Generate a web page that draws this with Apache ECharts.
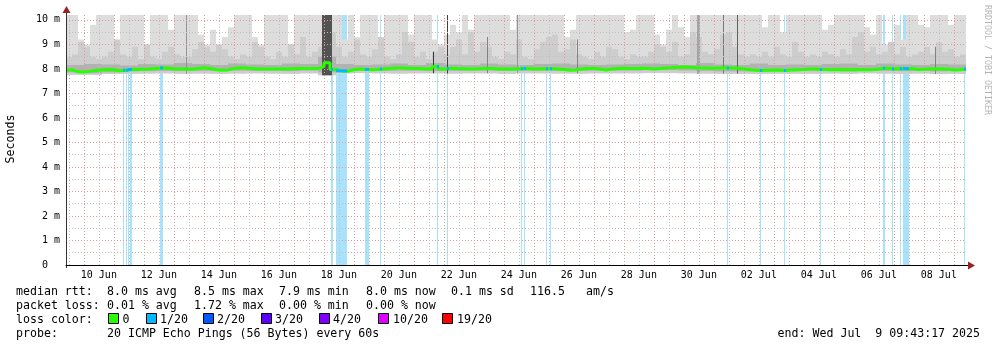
<!DOCTYPE html>
<html><head><meta charset="utf-8">
<script src="https://cdn.jsdelivr.net/npm/echarts@6/dist/echarts.min.js"></script>
<style>html,body{margin:0;padding:0;background:#fff}#c{width:997px;height:347px}</style>
</head><body><div id="c"></div>
<script>
// ---------- DATA ----------
const START = Date.UTC(2025, 5, 9, 9, 43, 17);
const END = Date.UTC(2025, 6, 9, 9, 43, 17);
const BIN_HOURS = 4.8;          // one sample bin of the fine arrays
const COARSE_BIN_HOURS = 14.4;  // one sample bin of the coarse arrays

const xTickLabels = ['10 Jun','12 Jun','14 Jun','16 Jun','18 Jun','20 Jun','22 Jun','24 Jun','26 Jun','28 Jun','30 Jun','02 Jul','04 Jul','06 Jul','08 Jul'];
const yTickLabels = ['0  ','1 m','2 m','3 m','4 m','5 m','6 m','7 m','8 m','9 m','10 m'];

// median rtt (ms)
const medianMs = [
7.96,7.88,7.87,7.9,7.94,7.97,7.98,7.97,7.92,7.95,
7.98,7.98,7.99,8.0,8.02,8.04,8.03,8.0,8.0,8.0,
7.99,8.02,8.05,8.02,7.97,7.95,7.96,8.02,8.05,8.04,
8.02,8.0,8.0,8.0,8.0,8.01,8.0,8.01,8.02,8.02,
8.02,8.02,8.1,8.25,7.98,7.92,7.9,7.97,8.0,7.98,
7.97,7.98,8.0,8.02,8.04,8.04,8.03,8.02,8.02,8.0,
8.0,8.1,8.0,8.02,8.02,8.01,8.0,8.0,8.01,8.02,
8.02,8.0,8.0,7.99,8.0,8.01,8.02,8.0,8.0,8.01,
8.01,8.0,7.98,7.95,7.96,8.0,8.02,8.02,8.0,7.96,
8.0,8.02,8.03,8.02,8.02,8.03,8.02,8.0,8.02,8.04,
8.05,8.07,8.08,8.07,8.05,8.04,8.04,8.03,8.04,8.05,
8.04,8.03,8.0,7.97,7.95,7.94,7.95,7.96,7.95,7.94,
7.96,7.97,7.98,8.0,8.0,7.98,7.97,7.97,7.98,7.97,
7.97,7.98,7.97,7.97,7.98,8.02,8.03,8.0,8.02,8.01,
8.02,7.98,7.99,8.0,8.0,8.01,7.99,7.96,7.97,8.0];

// highest ping of the bin (ms), light smoke top
const smokeTopMs = [
10.2,10.2,9.2,9.0,9.8,10.2,10.2,10.2,9.0,10.2,
10.2,10.2,10.2,8.9,10.2,10.2,10.2,9.6,10.2,10.2,
10.2,10.2,9.4,9.0,9.6,8.9,9.3,9.7,10.2,10.2,
10.2,9.3,9.0,10.2,10.2,10.2,10.2,9.0,10.2,10.2,
10.2,10.2,10.2,10.2,10.2,10.2,9.2,10.2,9.3,10.2,
10.2,10.2,9.2,10.2,10.2,10.2,10.2,9.4,10.2,10.2,
10.2,9.2,9.0,9.4,9.8,9.5,10.2,9.6,10.2,10.2,
10.2,10.2,10.2,10.2,9.6,10.2,10.2,10.2,10.2,10.2,
10.2,10.2,10.2,9.3,9.6,10.2,10.2,10.2,10.2,10.2,
10.2,10.2,10.2,9.5,9.6,10.2,10.2,10.2,9.4,9.0,
9.6,10.2,9.7,9.3,10.2,10.2,10.2,10.2,10.2,10.2,
10.2,10.2,10.2,10.2,10.2,10.2,9.7,10.2,10.2,9.5,
10.2,10.2,10.2,10.2,10.2,10.2,9.6,9.8,10.2,10.2,
10.2,10.2,10.2,9.7,9.4,10.2,9.0,9.0,9.8,9.2,
10.2,10.2,9.8,9.7,10.2,10.2,10.2,9.8,10.2,10.2];

// second-highest smoke band top (ms)
const smokeMidMs = [
8.5,8.6,9.1,8.9,8.5,8.4,8.5,8.7,9.2,8.6,
8.5,8.9,8.4,9.0,8.5,8.4,8.7,8.9,8.6,8.5,
8.5,8.8,9.1,8.9,8.7,9.0,8.8,8.5,8.4,8.6,
8.5,9.1,8.9,8.5,8.4,8.7,8.5,9.0,8.6,9.3,
8.5,8.7,8.9,9.5,9.5,8.9,8.5,8.7,9.2,8.6,
8.5,8.8,9.3,8.5,8.4,8.6,9.5,9.1,8.5,8.7,
8.4,8.7,8.9,8.6,8.9,9.2,8.6,9.5,8.7,9.1,
8.9,8.5,8.4,8.7,8.6,9.2,8.5,8.4,8.8,9.1,
9.3,9.4,8.7,8.8,9.2,8.6,8.5,8.4,8.7,8.5,
8.9,8.8,8.5,8.4,8.6,8.5,8.5,8.7,9.0,8.9,
8.7,9.1,8.5,8.6,9.5,9.3,8.7,8.6,8.8,9.4,
9.5,8.9,8.6,8.5,8.6,8.5,8.7,8.5,8.9,8.6,
8.5,9.1,8.7,8.5,8.6,8.5,8.7,8.6,8.5,8.8,
8.6,9.3,9.5,8.7,8.9,8.6,8.7,9.1,8.6,8.9,
8.5,8.6,8.7,8.9,8.6,9.1,8.7,8.8,8.5,8.6];

// lowest ping (ms), coarse bins
const smokeLowMs = [
7.76,7.76,7.79,7.8,7.81,7.82,7.8,7.81,7.8,7.81,
7.82,7.81,7.8,7.82,7.74,7.82,7.83,7.82,7.81,7.82,
7.82,7.81,7.82,7.82,7.8,7.82,7.82,7.81,7.81,7.82,
7.82,7.82,7.83,7.83,7.82,7.81,7.8,7.8,7.79,7.8,
7.8,7.8,7.81,7.8,7.82,7.81,7.8,7.81,7.79,7.8];
// dense core of the smoke (ms), coarse bins
const coreLowMs = [
7.86,7.82,7.86,7.9,7.91,7.92,7.91,7.92,7.92,7.93,
7.92,7.92,7.91,7.93,7.86,7.9,7.93,7.92,7.93,7.93,
7.92,7.92,7.93,7.93,7.92,7.93,7.93,7.92,7.92,7.93,
7.93,7.93,7.95,7.95,7.94,7.92,7.9,7.9,7.9,7.9,
7.91,7.91,7.92,7.9,7.93,7.92,7.91,7.92,7.9,7.91];
const coreHighMs = [
8.16,8.2,8.18,8.14,8.2,8.18,8.24,8.2,8.16,8.22,
8.18,8.16,8.22,8.2,8.5,8.2,8.16,8.18,8.22,8.16,
8.24,8.18,8.16,8.22,8.18,8.16,8.2,8.22,8.18,8.16,
8.18,8.2,8.22,8.2,8.16,8.24,8.18,8.16,8.22,8.16,
8.18,8.16,8.2,8.22,8.16,8.22,8.18,8.16,8.2,8.18];

// short dense smoke bursts: start/end (hours after START), top (ms), density 0..1
const burstStartH = [96, 204.8, 293.6, 304.8, 336.8, 360.8, 408.8, 504.8, 525.6, 536.8, 695.2];
const burstEndH   = [96.8, 212.8, 294.4, 305.6, 337.6, 361.6, 409.6, 507.2, 526.4, 537.6, 696];
const burstTopMs  = [10.2, 10.2, 8.7, 10.2, 9.3, 10.2, 9.2, 10.2, 10.2, 10.2, 8.9];
const burstDensity= [0.4, 0.78, 0.95, 0.88, 0.5, 0.4, 0.5, 0.3, 0.55, 0.7, 0.5];

// packet loss periods (hours after START) and lost pings out of 20
const lossStartH = [45.6,47.6,49.2,51.2,75.2,212,216,239.2,250.8,296.8,304.4,364,366,384,386.8,528.4,555.2,574.4,602.8,653.6,660.8,667.2,669.4,718.4];
const lossEndH   = [46.4,48.4,50.0,52.8,77.4,213.6,224.6,242.4,251.6,297.6,305.2,364.8,366.8,384.8,387.6,529.2,556,575.2,603.6,655.2,661.6,668,674.2,719.2];
const lossCount  = [1,1,1,1,1,1,1,1,1,1,1,1,1,1,1,1,1,1,1,1,1,1,1,1];

const lossLegendLabels = ['0','1/20','2/20','3/20','4/20','10/20','19/20'];

// ---------- CHART ----------
const HOUR = 3600e3;
const FONT = '"DejaVu Sans Mono", monospace';
const lossColors = ['#26ff00','#00b8ff','#0059ff','#5e00ff','#7e00ff','#dd00ff','#ff0000'];
const lossBg = ['#ffffff','#a9e3fb','#a0c4ff','#c4a6ff','#d2a6ff','#f2a6ff','#ffa6a6'];
function lossIndex(n){ if(n<=0) return 0; if(n<=1) return 1; if(n<=2) return 2; if(n<=3) return 3; if(n<=9) return 4; if(n<=18) return 5; return 6; }

const labelTimes = xTickLabels.map((_, k) => Date.UTC(2025, 5, 10 + 2*k, 12));
const noonTimes = [], midnightTimes = [];
for (let d = 0; d < 31; d++) {
  const n = Date.UTC(2025, 5, 9 + d, 12), m = Date.UTC(2025, 5, 10 + d, 0);
  if (n > START && n < END) noonTimes.push(n);
  if (m > START && m < END) midnightTimes.push(m);
}
const halfValues = [], wholeValues = [];
for (let v = 0; v <= 10; v++) { if (v > 0) wholeValues.push(v); halfValues.push(v + 0.5); }

const t = h => START + h * HOUR;

function rectFrom(api, t0, t1, lo, hi, minW) {
  const a = api.coord([t0, hi]), b = api.coord([t1, lo]);
  let x0 = Math.round(a[0]), x1 = Math.round(b[0]);
  if (x1 - x0 < minW) { const c = Math.round((a[0] + b[0]) / 2 - minW / 2); x0 = c; x1 = c + minW; }
  return { x: x0, y: a[1], width: x1 - x0, height: b[1] - a[1] };
}

function bandSeries(name, data, fillFn, z) {
  return {
    type: 'custom', name, z, clip: true, silent: true,
    xAxisIndex: 0, yAxisIndex: 0,
    encode: { x: [0, 1], y: [2, 3] },
    data,
    renderItem: (params, api) => ({
      type: 'rect',
      shape: rectFrom(api, api.value(0), api.value(1), api.value(2), api.value(3), 1),
      style: { fill: fillFn(api.value(4)) }
    })
  };
}

const fineBin = i => [START + i * BIN_HOURS * HOUR, START + (i + 1) * BIN_HOURS * HOUR];
const coarseBin = i => [START + i * COARSE_BIN_HOURS * HOUR, START + (i + 1) * COARSE_BIN_HOURS * HOUR];

const lightData = smokeTopMs.map((v, i) => { const b = fineBin(i); return [b[0], b[1], smokeLowMs[Math.floor(i/3)], v, 0]; });
const midData = smokeMidMs.map((v, i) => { const b = fineBin(i); return [b[0], b[1], smokeLowMs[Math.floor(i/3)], v, 0]; });
const coreData = coreHighMs.map((v, i) => { const b = coarseBin(i); return [b[0], b[1], coreLowMs[i], v, 0]; });
const burstData = burstStartH.map((s, i) => [t(s), t(burstEndH[i]), smokeLowMs[Math.floor(s / COARSE_BIN_HOURS)], burstTopMs[i], burstDensity[i]]);
const lossData = lossStartH.map((s, i) => [t(s), t(lossEndH[i]), 0, 10.2, lossCount[i]]);

const medianLine = medianMs.map((v, i) => [fineBin(i)[0], v]);
medianLine.push([END, medianMs[medianMs.length - 1]]);
const lossMedianData = lossStartH.map((s, i) => [t(s), t(lossEndH[i]), medianMs[Math.min(149, Math.floor(s / BIN_HOURS))], lossCount[i]]);

function gridAxisX(values, color) {
  return { type: 'value', min: START, max: END, position: 'bottom', z: 3,
    axisLine: { show: false }, axisLabel: { show: false }, splitLine: { show: false },
    axisTick: { show: true, customValues: values, inside: true, length: 250, lineStyle: { color, width: 1, type: [1, 2] } } };
}
function gridAxisY(values, color) {
  return { type: 'value', min: 0, max: 10.2, position: 'left', z: 3,
    axisLine: { show: false }, axisLabel: { show: false }, splitLine: { show: false },
    axisTick: { show: true, customValues: values, inside: true, length: 900, lineStyle: { color, width: 1, type: [1, 2] } } };
}

const graphics = [];
function txt(x, y, text, opt) {
  graphics.push(Object.assign({ type: 'text', x, y, silent: true,
    style: Object.assign({ text, font: '11.6px ' + FONT, fill: '#000', align: 'left', verticalAlign: 'middle' }, (opt && opt.style) || {}) },
    (opt && opt.el) || {}));
}
txt(11, 139, 'Seconds', { el: { rotation: Math.PI / 2 }, style: { align: 'center' } });
txt(987, 60, 'RRDTOOL / TOBI OETIKER', { el: { rotation: -Math.PI / 2 }, style: { align: 'center', font: '8.3px ' + FONT, fill: '#b4b4b4' } });

const L1 = 291.5, L2 = 305.5, L3 = 319.5, L4 = 333.5;
txt(16, L1, 'median rtt:'); txt(107, L1, '8.0 ms avg'); txt(194, L1, '8.5 ms max'); txt(279, L1, '7.9 ms min');
txt(366, L1, '8.0 ms now'); txt(451, L1, '0.1 ms sd'); txt(530, L1, '116.5'); txt(586, L1, 'am/s');
txt(16, L2, 'packet loss:'); txt(107, L2, '0.01 % avg'); txt(194, L2, '1.72 % max'); txt(279, L2, '0.00 % min'); txt(366, L2, '0.00 % now');
txt(16, L3, 'loss color:');
const boxX = [108, 146, 203, 261, 319, 378, 442];
const boxLabelX = [122.5, 160, 217, 275, 333, 393, 457];
lossLegendLabels.forEach((lab, i) => {
  graphics.push({ type: 'rect', silent: true, shape: { x: boxX[i] + 0.5, y: 313.5, width: 10, height: 10 },
    style: { fill: lossColors[i], stroke: '#000', lineWidth: 1 } });
  txt(boxLabelX[i], L3, lab);
});
txt(16, L4, 'probe:'); txt(107, L4, '20 ICMP Echo Pings (56 Bytes) every 60s');
txt(980, L4, 'end: Wed Jul  9 09:43:17 2025', { style: { align: 'right' } });
// axis extensions and arrows
graphics.push({ type: 'line', silent: true, shape: { x1: 966, y1: 265.5, x2: 970, y2: 265.5 }, style: { stroke: '#000', lineWidth: 1 } });
graphics.push({ type: 'line', silent: true, shape: { x1: 66.5, y1: 11, x2: 66.5, y2: 15 }, style: { stroke: '#333', lineWidth: 1 } });
graphics.push({ type: 'line', silent: true, shape: { x1: 66.5, y1: 265, x2: 66.5, y2: 268 }, style: { stroke: '#333', lineWidth: 1 } });
graphics.push({ type: 'polygon', silent: true, shape: { points: [[968, 261.5], [968, 269.5], [975, 265.5]] }, style: { fill: '#9b2020' } });
graphics.push({ type: 'polygon', silent: true, shape: { points: [[62.5, 13], [70.5, 13], [66.5, 6]] }, style: { fill: '#9b2020' } });

const option = {
  animation: false,
  backgroundColor: '#ffffff',
  grid: { left: 66, right: 31, top: 15, bottom: 82, containLabel: false, outerBoundsMode: 'none' },
  xAxis: [
    { type: 'value', min: START, max: END, position: 'bottom', z: 6,
      axisLine: { show: true, onZero: false, lineStyle: { color: '#000', width: 1 } },
      axisTick: { show: false }, splitLine: { show: false },
      axisLabel: { customValues: labelTimes, margin: 5, color: '#000', fontFamily: FONT, fontSize: 10,
        formatter: v => { const k = labelTimes.indexOf(v); return k >= 0 ? xTickLabels[k] : ''; } } },
    gridAxisX(noonTimes, '#c0c0c0'),
    gridAxisX(midnightTimes, '#dc9a9a')
  ],
  yAxis: [
    { type: 'value', min: 0, max: 10.2, position: 'left', z: 6,
      axisLine: { show: true, onZero: false, lineStyle: { color: '#333', width: 1 } },
      axisTick: { show: false }, splitLine: { show: false },
      axisLabel: { customValues: [0,1,2,3,4,5,6,7,8,9,10], margin: 6, color: '#000', fontFamily: FONT, fontSize: 10,
        formatter: v => yTickLabels[Math.round(v)] } },
    gridAxisY(halfValues, '#c0c0c0'),
    gridAxisY(wholeValues, '#dc9a9a')
  ],
  series: [
    bandSeries('loss', lossData, n => lossBg[lossIndex(n)], 1),
    bandSeries('smoke', lightData, () => '#dddddd', 1),
    bandSeries('smoke2', midData, () => '#cdcdcd', 1),
    bandSeries('core', coreData, () => '#b2b2b2', 1),
    bandSeries('burst', burstData, d => { const g = Math.round(215 - d * 170); return 'rgb(' + g + ',' + g + ',' + g + ')'; }, 1),
    { type: 'line', name: 'median', data: medianLine, step: 'end', showSymbol: false, z: 4, silent: true,
      xAxisIndex: 0, yAxisIndex: 0, lineStyle: { color: '#26ff00', width: 3 }, clip: true },
    { type: 'custom', name: 'lossMedian', z: 5, clip: true, silent: true, xAxisIndex: 0, yAxisIndex: 0,
      encode: { x: [0, 1], y: 2 }, data: lossMedianData,
      renderItem: (params, api) => {
        const a = api.coord([api.value(0), api.value(2)]), b = api.coord([api.value(1), api.value(2)]);
        const w = Math.max(2, Math.round(b[0] - a[0]));
        return { type: 'rect', shape: { x: Math.round(a[0]), y: a[1] - 1.5, width: w, height: 3 },
          style: { fill: lossColors[lossIndex(api.value(3))] } };
      } }
  ],
  graphic: graphics
};

const chart = echarts.init(document.getElementById('c'), null, { renderer: 'canvas', width: 997, height: 347 });
chart.setOption(option);
</script>
</body></html>
